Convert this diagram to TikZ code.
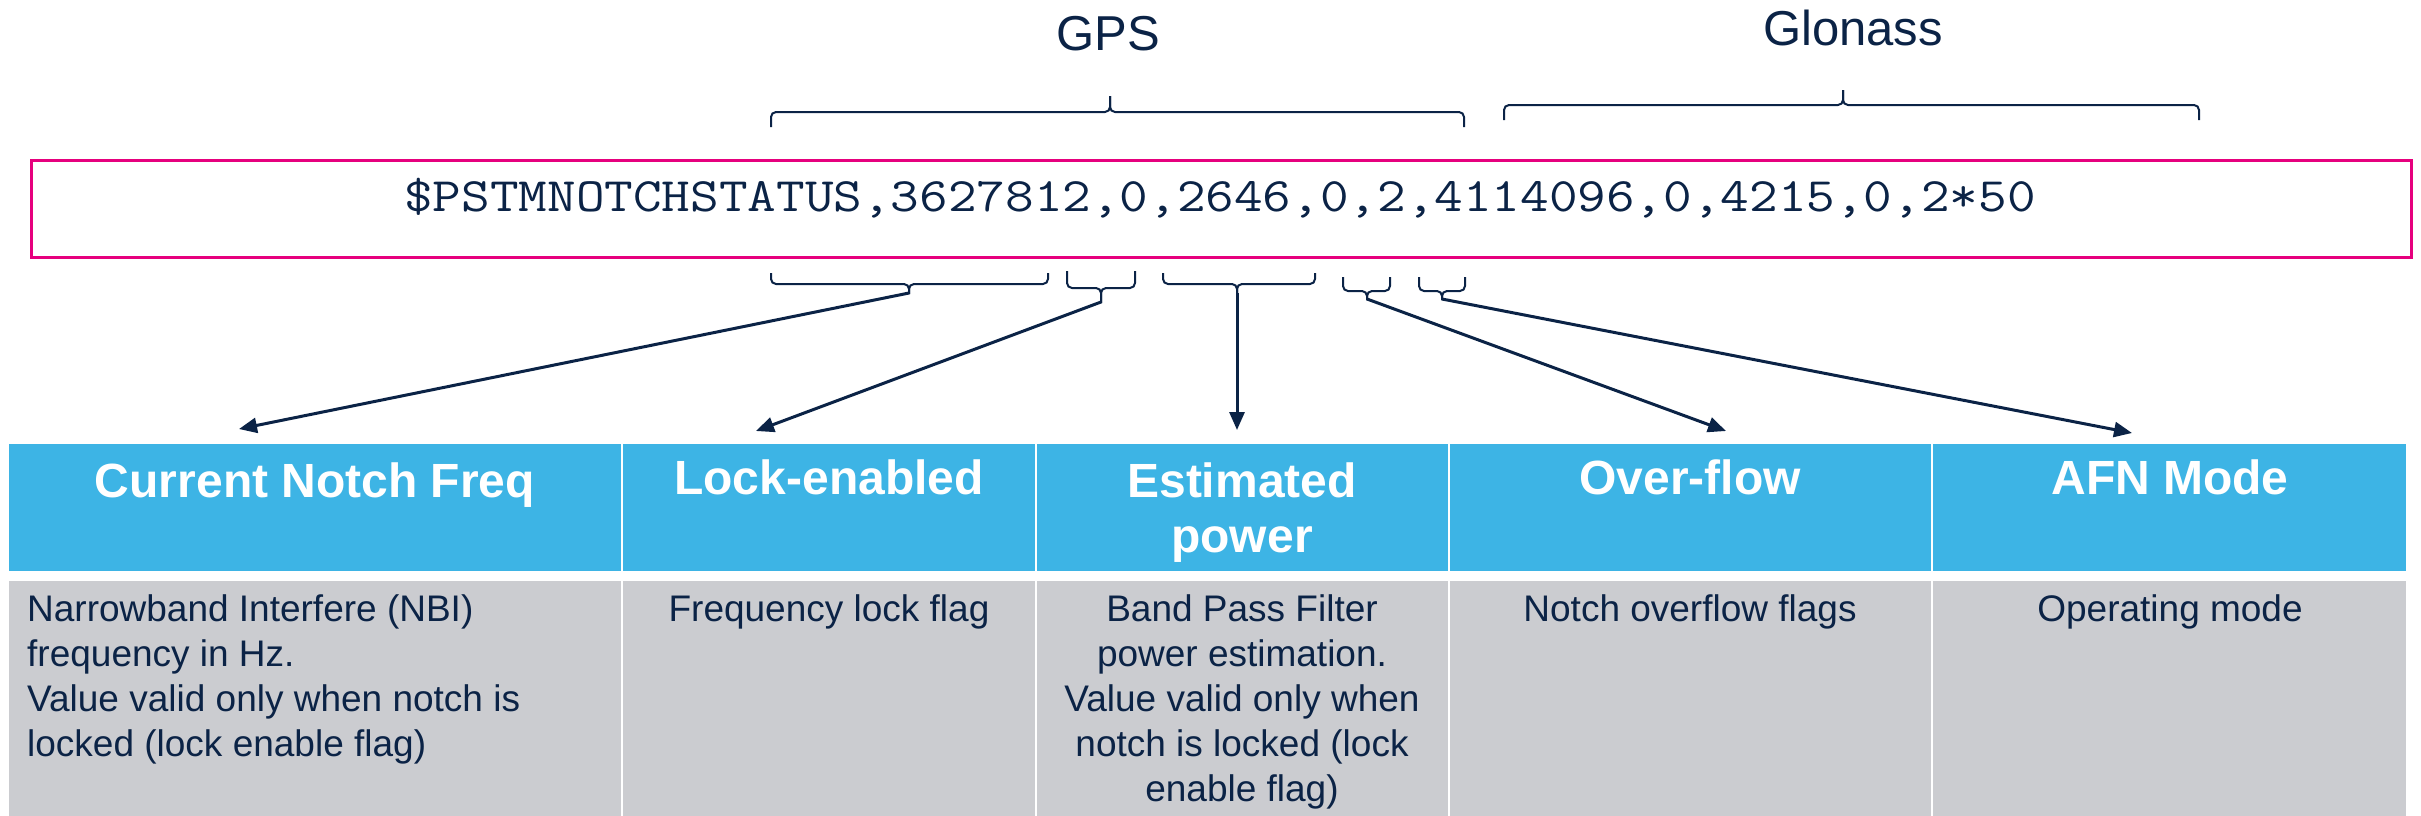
\documentclass[tikz,border=0pt]{standalone}
\usepackage{fontspec}
\usepackage{graphicx}
\setmainfont{Liberation Sans}
\usetikzlibrary{arrows.meta}
\definecolor{navy}{HTML}{0B2346}
\definecolor{pinkline}{HTML}{E6007E}
\definecolor{hdrblue}{HTML}{3DB4E5}
\definecolor{bodygray}{HTML}{CBCCD0}
\begin{document}
\begin{tikzpicture}[x=1pt,y=-1pt,
  cell/.style={rectangle, inner sep=0pt, outer sep=0pt, draw=white, line width=2pt, anchor=north west},
  hdrcell/.style={cell, fill=hdrblue, minimum height=129pt},
  bodycell/.style={cell, fill=bodygray, minimum height=240pt},
  hdrtext/.style={font=\fontsize{48}{55}\selectfont\bfseries, text=white, align=center, anchor=base, inner sep=0pt},
  bodytext/.style={font=\fontsize{37}{45}\selectfont, text=navy, align=center, anchor=base, inner sep=0pt},
  bracepath/.style={draw=navy, line width=2pt, rounded corners=5pt},
  conn/.style={draw=navy, line width=3pt, -{Triangle[length=18pt,width=15pt]}},
  grouplabel/.style={font=\fontsize{49}{55}\selectfont, text=navy, anchor=base, inner sep=0pt},
]
\useasboundingbox (0,0) rectangle (2421,815);

% group labels
\node[grouplabel] (gps) at (1108,50) {GPS};
\node[grouplabel] (glo) at (1853,45) {Glonass};

% top braces
\draw[bracepath] (771,127) -- (771,112) -- (1110,112) -- (1110,96);
\draw[bracepath] (1464,127) -- (1464,112) -- (1110,112) -- (1110,96);
\draw[bracepath] (1504,120) -- (1504,105) -- (1843,105) -- (1843,90);
\draw[bracepath] (2199,120) -- (2199,105) -- (1843,105) -- (1843,90);

% message box
\node[draw=pinkline, line width=2.5pt, minimum width=2380pt, minimum height=97pt, anchor=north west, inner sep=0pt] (msg) at (30,159) {};
\node[font=\ttfamily\fontsize{48}{50}\selectfont, text=navy, anchor=base, inner sep=0pt] (msgtext) at (1220,211) {\scalebox{1.158}[1]{\$PSTMNOTCHSTATUS,3627812,0,2646,0,2,4114096,0,4215,0,2*50}};

% bottom braces
\draw[bracepath] (771,273) -- (771,284) -- (909,284) -- (909,294);
\draw[bracepath] (1048,273) -- (1048,284) -- (909,284) -- (909,294);
\draw[bracepath] (1067,271) -- (1067,288) -- (1101,288) -- (1101,303);
\draw[bracepath] (1135,271) -- (1135,288) -- (1101,288) -- (1101,303);
\draw[bracepath] (1163,273) -- (1163,284) -- (1237,284) -- (1237,294);
\draw[bracepath] (1315,273) -- (1315,284) -- (1237,284) -- (1237,294);
\draw[bracepath] (1343,277) -- (1343,291) -- (1367,291) -- (1367,300);
\draw[bracepath] (1390,277) -- (1390,291) -- (1367,291) -- (1367,300);
\draw[bracepath] (1419,277) -- (1419,291) -- (1442,291) -- (1442,300);
\draw[bracepath] (1465,277) -- (1465,291) -- (1442,291) -- (1442,300);

\coordinate (b1) at (909,293);
\coordinate (b2) at (1101,302);
\coordinate (b3) at (1237,293);
\coordinate (b4) at (1367,299);
\coordinate (b5) at (1442,299);

\coordinate (a1) at (239,429);
\coordinate (a2) at (756,431);
\coordinate (a3) at (1237,430);
\coordinate (a4) at (1726,431);
\coordinate (a5) at (2132,433);

% table cells
\node[hdrcell, minimum width=614pt] (h1) at (8,443) {};
\node[hdrcell, minimum width=414pt] (h2) at (622,443) {};
\node[hdrcell, minimum width=413pt] (h3) at (1036,443) {};
\node[hdrcell, minimum width=483pt] (h4) at (1449,443) {};
\node[hdrcell, minimum width=475pt] (h5) at (1932,443) {};
\node[bodycell, minimum width=614pt] (c1) at (8,580) {};
\node[bodycell, minimum width=414pt] (c2) at (622,580) {};
\node[bodycell, minimum width=413pt] (c3) at (1036,580) {};
\node[bodycell, minimum width=483pt] (c4) at (1449,580) {};
\node[bodycell, minimum width=475pt] (c5) at (1932,580) {};

% connectors
\draw[conn] (b1) -- (a1);
\draw[conn] (b2) -- (a2);
\draw[conn] (b3) -- (a3);
\draw[conn] (b4) -- (a4);
\draw[conn] (b5) -- (a5);

% header texts (base = baseline of the last line)
\node[hdrtext] (t1) at (315,497) {Current Notch Freq};
\node[hdrtext] (t2) at (829,494) {Lock-enabled};
\node[hdrtext] (t3) at (1242,552) {Estimated\\power};
\node[hdrtext] (t4) at (1690,494) {Over-flow};
\node[hdrtext] (t5) at (2170,494) {AFN Mode};

% body texts (base = baseline of the last line)
\node[bodytext, align=left, anchor=base west] (d1) at (27,756) {Narrowband Interfere (NBI)\\frequency in Hz.\\Value valid only when notch is\\locked (lock enable flag)};
\node[bodytext] (d2) at (829,621) {Frequency lock flag};
\node[bodytext] (d3) at (1242,801) {Band Pass Filter\\power estimation.\\Value valid only when\\notch is locked (lock\\enable flag)};
\node[bodytext] (d4) at (1690,621) {Notch overflow flags};
\node[bodytext] (d5) at (2170,621) {Operating mode};
\end{tikzpicture}
\end{document}
